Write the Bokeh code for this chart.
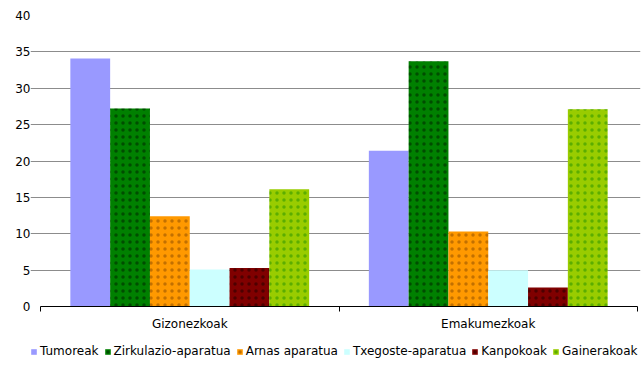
from bokeh.plotting import figure
from bokeh.models import (ColumnDataSource, Range1d, FixedTicker, Legend, LegendItem)
from bokeh.core.properties import value
from bokeh.transform import dodge
from bokeh.embed import file_html
from bokeh.resources import INLINE

categories = ["Gizonezkoak", "Emakumezkoak"]
series = ["Tumoreak", "Zirkulazio-aparatua", "Arnas aparatua",
          "Txegoste-aparatua", "Kanpokoak", "Gainerakoak"]
tumoreak = [34.1, 21.4]
zirkulazio = [27.2, 33.7]
arnas = [12.4, 10.3]
txegoste = [5.1, 5.0]
kanpokoak = [5.3, 2.6]
gainerakoak = [16.1, 27.1]
y_ticks = [0, 5, 10, 15, 20, 25, 30, 35, 40]

colors = ["#9999FF", "#008000", "#FF9900", "#CCFFFF", "#800000", "#99CC00"]
hatch_colors = [None, "#000000", "#663300", None, "#000000", "#008000"]

values = [tumoreak, zirkulazio, arnas, txegoste, kanpokoak, gainerakoak]
ncat = len(categories)
centers = [i + 0.5 for i in range(ncat)]
data = {"x": centers, "cat": categories, "zero": [0] * ncat}
for s, v in zip(series, values):
    data[s] = v
source = ColumnDataSource(data)

FONT = "DejaVu Sans"

# frame: x 30..640 px, value axis 0 at 306 px, 40 at 15 px, frame bottom 360 px
W, H = 643, 370
left, right, top, bottom = 30, 3, 15, 10
px_x = (637 - 40) / ncat
px_y = (306 - 15) / 40
x_start = -(40 - left) / px_x
x_end = ncat + (W - right - 637) / px_x
y_start = -((H - bottom) - 306) / px_y

p = figure(width=W, height=H, output_backend="svg", toolbar_location=None,
           x_range=Range1d(x_start, x_end), y_range=Range1d(y_start, 40),
           min_border_left=left, min_border_right=right, min_border_top=top,
           min_border_bottom=bottom, outline_line_color=None)

bw = 0.8 / len(series)
items = []
for i, s in enumerate(series):
    off = (i - (len(series) - 1) / 2) * bw
    kw = {}
    if hatch_colors[i]:
        kw = dict(hatch_pattern=".", hatch_color=hatch_colors[i],
                  hatch_scale=7, hatch_weight=1, hatch_alpha=0.4)
    r = p.vbar(x=dodge("x", off, range=p.x_range), top=s, width=bw,
               source=source, fill_color=colors[i], line_color=None, **kw)
    items.append(LegendItem(label=s, renderers=[r]))

# category labels under the axis
p.text(x="x", y="zero", text="cat", source=source, y_offset=17,
       text_align="center", text_baseline="middle",
       text_font=value(FONT), text_font_size="12px", text_color="#000000")

# value axis (no line, labels only)
yax = p.yaxis[0]
yax.ticker = FixedTicker(ticks=y_ticks)
yax.axis_line_color = None
yax.major_tick_line_color = None
yax.major_tick_out = 0
yax.major_tick_in = 0
yax.minor_tick_line_color = None
yax.major_label_standoff = 0
yax.major_label_text_font = FONT
yax.major_label_text_font_size = "12px"
yax.major_label_text_color = "#000000"

# category axis, pinned at y = 0
xax = p.xaxis[0]
xax.fixed_location = 0
xax.bounds = (0, ncat)
xax.ticker = FixedTicker(ticks=[], minor_ticks=[float(i) for i in range(ncat + 1)])
xax.major_tick_line_color = None
xax.major_tick_out = 0
xax.major_tick_in = 0
xax.minor_tick_in = 0
xax.minor_tick_out = 5
xax.minor_tick_line_color = "#000000"
xax.axis_line_color = "#000000"
xax.major_label_standoff = 0
xax.major_label_text_font_size = "0px"

p.xgrid.grid_line_color = None
p.ygrid.ticker = FixedTicker(ticks=y_ticks[1:])
p.ygrid.bounds = (0, ncat)
p.ygrid.grid_line_color = "#8c8c8c"
p.ygrid.grid_line_width = 1

legend = Legend(items=items, orientation="horizontal", location=(0, 2),
                glyph_width=7, glyph_height=7, label_standoff=3, spacing=5,
                padding=0, margin=0, border_line_color=None, label_height=14,
                label_text_font=FONT, label_text_font_size="12px",
                label_text_color="#000000", background_fill_alpha=0)
p.add_layout(legend, "center")

open("out.html", "w").write(file_html(p, INLINE))
